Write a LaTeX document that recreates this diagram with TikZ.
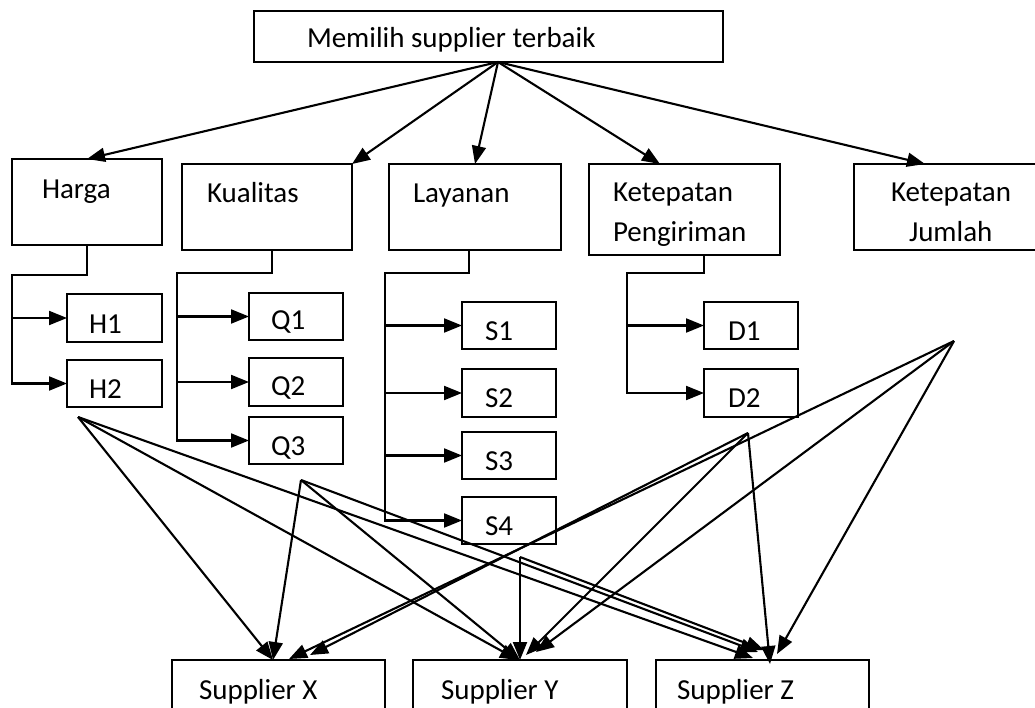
\documentclass[tikz,border=0pt]{standalone}
\usepackage{fontspec}
\setmainfont{Carlito}
\usetikzlibrary{arrows.meta,calc}
\begin{document}
\begin{tikzpicture}[x=1pt,y=-1pt,
  box/.style={draw,line width=2.1pt,rectangle,inner sep=0pt,outer sep=0pt,anchor=north west},
  lbl/.style={anchor=base west,inner sep=0pt,outer sep=0pt,font=\fontsize{29}{34}\selectfont},
  arr/.style={line width=2.1pt,-{Triangle[length=18pt,width=14pt]}}]
\useasboundingbox (0,0) rectangle (1035,708);
\clip (0,0) rectangle (1035,708);
% boxes
\node[box,minimum width=469pt,minimum height=51pt] (top) at (254,11) {};
\node[box,minimum width=150pt,minimum height=86pt] (harga) at (12,159) {};
\node[box,minimum width=170pt,minimum height=86pt] (kual) at (182,164) {};
\node[box,minimum width=172pt,minimum height=86pt] (lay) at (389,164) {};
\node[box,minimum width=191pt,minimum height=91pt] (kpeng) at (589,164) {};
\node[box,minimum width=200pt,minimum height=86pt] (kjum) at (854,164) {};
\node[box,minimum width=95pt,minimum height=48pt] (h1) at (67,294) {};
\node[box,minimum width=95pt,minimum height=47pt] (h2) at (67,360) {};
\node[box,minimum width=94pt,minimum height=47pt] (q1) at (249,293) {};
\node[box,minimum width=94pt,minimum height=48pt] (q2) at (249,358) {};
\node[box,minimum width=94pt,minimum height=47pt] (q3) at (249,417) {};
\node[box,minimum width=94pt,minimum height=47pt] (s1) at (462,302) {};
\node[box,minimum width=94pt,minimum height=48pt] (s2) at (462,369) {};
\node[box,minimum width=94pt,minimum height=47pt] (s3) at (462,432) {};
\node[box,minimum width=94pt,minimum height=47pt] (s4) at (462,497) {};
\node[box,minimum width=94pt,minimum height=47pt] (d1) at (704,302) {};
\node[box,minimum width=94pt,minimum height=48pt] (d2) at (704,369) {};
\node[box,minimum width=213pt,minimum height=60pt] (sx) at (172,660) {};
\node[box,minimum width=214pt,minimum height=60pt] (sy) at (413,660) {};
\node[box,minimum width=213pt,minimum height=60pt] (sz) at (656,660) {};
% texts
\node[lbl] (t-top) at (307,48) {Memilih supplier terbaik};
\node[lbl] (t-harga) at (42,199) {Harga};
\node[lbl] (t-kual) at (207,203) {Kualitas};
\node[lbl] (t-lay) at (413,203) {Layanan};
\node[lbl] (t-kp1) at (613,202) {Ketepatan};
\node[lbl] (t-kp2) at (613,242) {Pengiriman};
\node[lbl] (t-kj1) at (891,202) {Ketepatan};
\node[lbl] (t-kj2) at (909,242) {Jumlah};
\node[lbl] (t-h1) at (89,333) {H1};
\node[lbl] (t-h2) at (89,398) {H2};
\node[lbl] (t-q1) at (271,330) {Q1};
\node[lbl] (t-q2) at (271,395) {Q2};
\node[lbl] (t-q3) at (271,455) {Q3};
\node[lbl] (t-s1) at (485,340) {S1};
\node[lbl] (t-s2) at (485,407) {S2};
\node[lbl] (t-s3) at (485,470) {S3};
\node[lbl] (t-s4) at (485,535) {S4};
\node[lbl] (t-d1) at (728,340) {D1};
\node[lbl] (t-d2) at (728,407) {D2};
\node[lbl] (t-sx) at (199,699) {Supplier X};
\node[lbl] (t-sy) at (441,699) {Supplier Y};
\node[lbl] (t-sz) at (677,699) {Supplier Z};
% top arrows
\coordinate (src) at ($(top.south west)+(244,0)$);
\draw[arr] (src) -- (harga.north);
\draw[arr] (src) -- (kual.north east);
\draw[arr] (src) -- (lay.north);
\draw[arr] (src) -- ($(kpeng.north west)+(71,0)$);
\draw[arr] (src) -- ($(kjum.north west)+(71,0)$);
% sub criteria
\coordinate (hj) at (12,275);
\draw[arr] (harga.south) |- (hj) |- (h2.west);
\draw[arr] (hj |- h1.west) -- (h1.west);
\coordinate (qj) at (177,273);
\draw[arr] ($(kual.south west)+(90,0)$) |- (qj) |- (q3.west);
\draw[arr] (qj |- q1.west) -- (q1.west);
\draw[arr] (qj |- q2.west) -- (q2.west);
\coordinate (lj) at (385,273);
\draw[arr] ($(lay.south west)+(80,0)$) |- (lj) |- (s4.west);
\draw[arr] (lj |- s1.west) -- (s1.west);
\draw[arr] (lj |- s2.west) -- (s2.west);
\draw[arr] (lj |- s3.west) -- (s3.west);
\coordinate (dj) at (627,273);
\draw[arr] ($(kpeng.south west)+(115,0)$) |- (dj) |- (d2.west);
\draw[arr] (dj |- d1.west) -- (d1.west);
% crossing arrows to suppliers
\coordinate (A) at (78,417);
\coordinate (B) at (301,480);
\coordinate (C) at (520,557);
\coordinate (D) at (748,433);
\coordinate (E) at (954,341);
\draw[arr] (A) -- ($(sx.north west)+(101,0)$);
\draw[arr] (A) -- ($(sy.north west)+(105,0)$);
\draw[arr] (A) -- ($(sz.north west)+(97,-2)$);
\draw[arr] (B) -- ($(sx.north west)+(101,0)$);
\draw[arr] (B) -- ($(sy.north west)+(107,0)$);
\draw[arr] (B) -- ($(sz.north west)+(102,-8)$);
\draw[arr] (C) -- ($(sy.north west)+(107,0)$);
\draw[arr] (C) -- ($(sz.north west)+(108,-10)$);
\draw[arr] (D) -- ($(sx.north west)+(138,-5)$);
\draw[arr] (D) -- ($(sy.north west)+(113,-5)$);
\draw[arr] (D) -- ($(sz.north west)+(114,4)$);
\draw[arr] (E) -- ($(sx.north west)+(117,-1)$);
\draw[arr] (E) -- ($(sy.north west)+(123,-8)$);
\draw[arr] (E) -- ($(sz.north west)+(121,-6)$);
\end{tikzpicture}
\end{document}
